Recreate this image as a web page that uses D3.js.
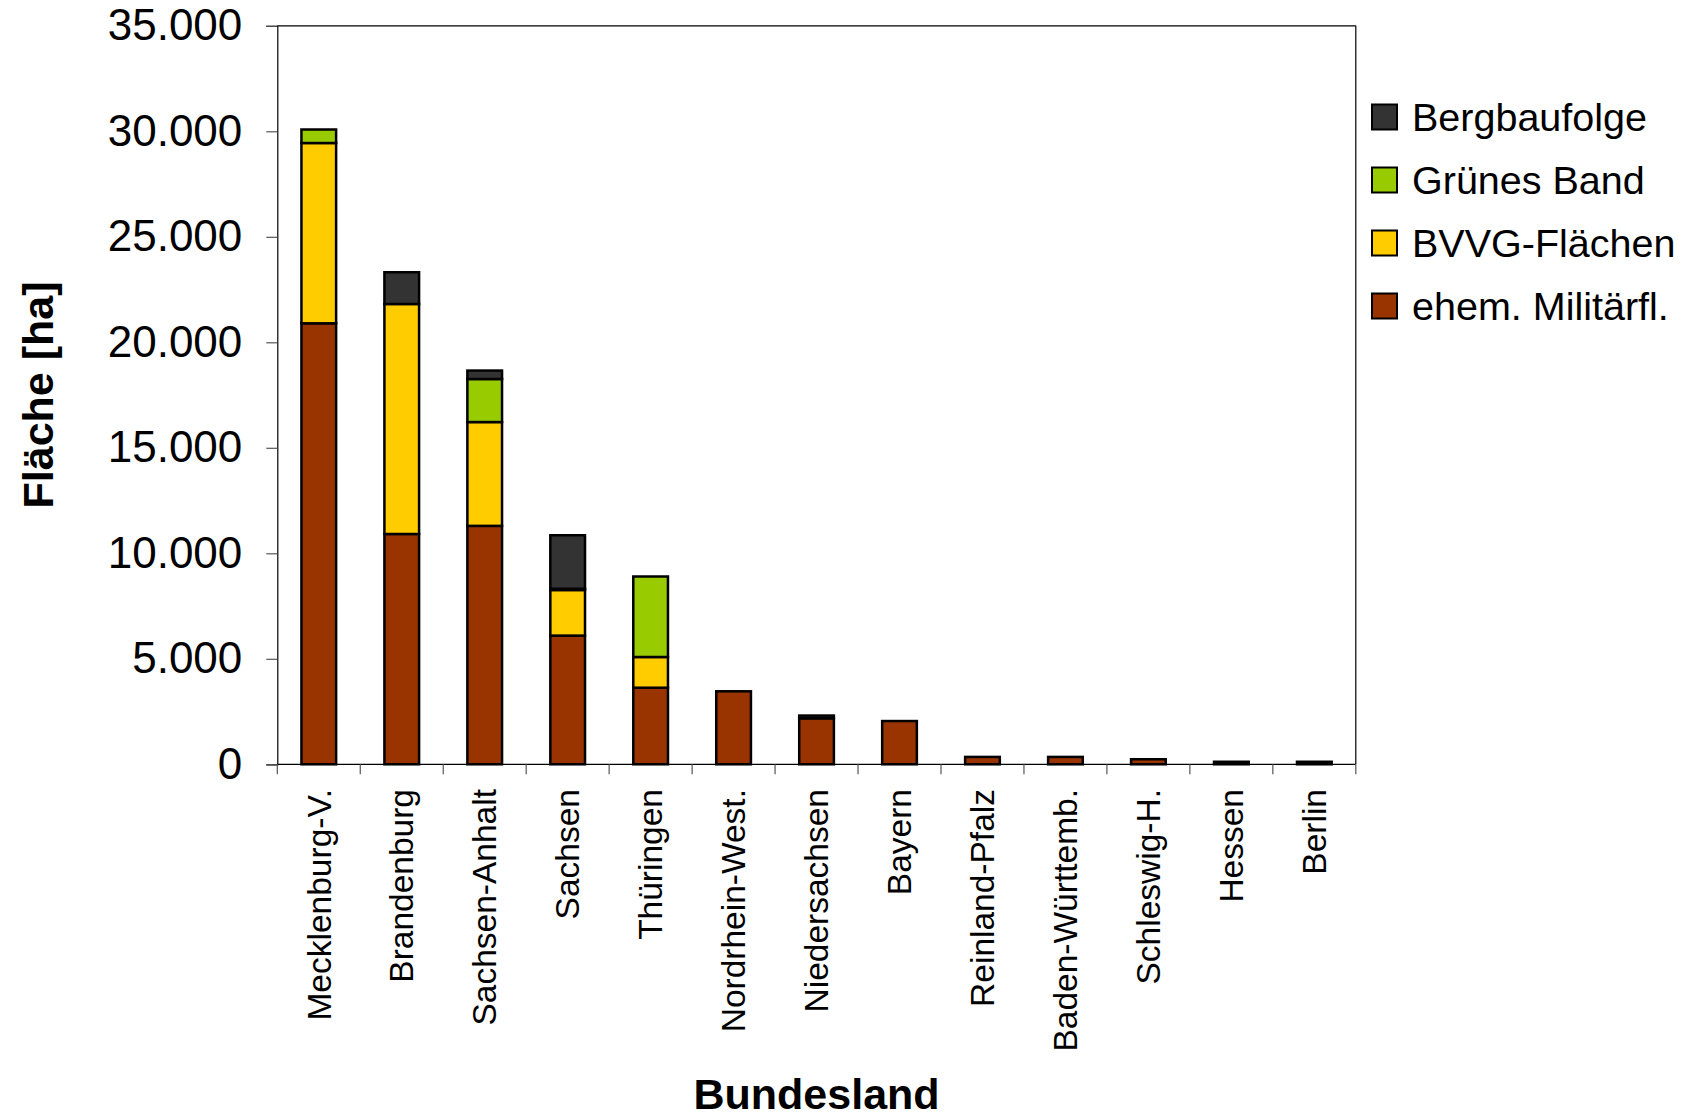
<!DOCTYPE html>
<html>
<head>
<meta charset="utf-8">
<script src="https://cdn.jsdelivr.net/npm/d3@7"></script>
<style>
  html, body { margin: 0; padding: 0; background: #fff; }
  svg { display: block; }
  text { font-family: "Liberation Sans", Arial, sans-serif; fill: #000; }
</style>
</head>
<body>
<svg id="chart" width="1683" height="1118"></svg>
<script>
const categories = ["Mecklenburg-V.", "Brandenburg", "Sachsen-Anhalt", "Sachsen", "Thüringen",
  "Nordrhein-West.", "Niedersachsen", "Bayern", "Reinland-Pfalz", "Baden-Württemb.",
  "Schleswig-H.", "Hessen", "Berlin"];
const militaer = [20900, 10915, 11300, 6100, 3630, 3460, 2180, 2050, 350, 350, 240, 120, 120];
const bvvg     = [8545, 10900, 4920, 2160, 1455, 0, 0, 0, 0, 0, 0, 0, 0];
const gruenes  = [640, 0, 2040, 60, 3815, 0, 0, 0, 0, 0, 0, 0, 0];
const bergbau  = [0, 1505, 400, 2535, 0, 0, 130, 0, 0, 0, 0, 0, 0];
const seriesNames = ["ehem. Militärfl.", "BVVG-Flächen", "Grünes Band", "Bergbaufolge"];
const seriesColors = ["#993300", "#FFCC00", "#99CC00", "#333333"];
const yTicks = [0, 5000, 10000, 15000, 20000, 25000, 30000, 35000];
const yTitle = "Fläche [ha]";
const xTitle = "Bundesland";

const seriesValues = [militaer, bvvg, gruenes, bergbau];
const keys = ["m", "b", "g", "k"];
const rows = categories.map((c, i) => {
  const r = { cat: c };
  keys.forEach((k, j) => r[k] = seriesValues[j][i]);
  return r;
});
const stacked = d3.stack().keys(keys)(rows);

const svg = d3.select("#chart");
const L = 277.3, R = 1355.8, T = 25.8, B = 764.3;

const x = d3.scaleBand().domain(categories).range([L, R]).paddingInner(0.582).paddingOuter(0.291);
const xb = d3.scaleBand().domain(categories).range([L, R]).padding(0);
const y = d3.scaleLinear().domain([0, 35000]).range([B, T]);

const de = d3.formatLocale({ decimal: ",", thousands: ".", grouping: [3], currency: ["", " €"] });
const fmt = de.format(",");

// plot frame (top and right)
svg.append("line").attr("x1", L).attr("x2", R).attr("y1", T).attr("y2", T)
  .attr("stroke", "#000").attr("stroke-width", 1.2);
svg.append("line").attr("x1", R).attr("x2", R).attr("y1", T).attr("y2", B)
  .attr("stroke", "#000").attr("stroke-width", 1.2);

// bars
const g = svg.append("g");
stacked.forEach((s, si) => {
  g.selectAll(null).data(s.filter(d => d[1] - d[0] > 0)).join("rect")
    .attr("x", d => x(d.data.cat))
    .attr("width", x.bandwidth())
    .attr("y", d => y(d[1]))
    .attr("height", d => y(d[0]) - y(d[1]))
    .attr("fill", seriesColors[si])
    .attr("stroke", "#000")
    .attr("stroke-width", 2.5);
});

// y axis
const yAxis = d3.axisLeft(y).tickValues(yTicks).tickFormat(fmt).tickSize(11).tickPadding(24);
const ya = svg.append("g").attr("transform", `translate(${L},0)`).call(yAxis);
ya.select(".domain").attr("stroke", "#000").attr("stroke-width", 1.2);
ya.selectAll(".tick line").attr("stroke", "#555").attr("stroke-width", 1.2);
ya.selectAll(".tick text").attr("font-size", 44).attr("fill", "#000")
  .attr("font-family", "Liberation Sans, Arial, sans-serif");

// x axis: ticks at band boundaries
const xAxisG = svg.append("g");
xAxisG.append("line").attr("x1", L).attr("x2", R).attr("y1", B).attr("y2", B)
  .attr("stroke", "#000").attr("stroke-width", 1.2);
const bounds = categories.map(c => xb(c)).concat([R]);
xAxisG.selectAll(null).data(bounds).join("line")
  .attr("x1", d => d).attr("x2", d => d).attr("y1", B).attr("y2", B + 10)
  .attr("stroke", "#555").attr("stroke-width", 1.2);
xAxisG.selectAll(null).data(categories).join("text")
  .attr("transform", d => `translate(${xb(d) + xb.bandwidth() / 2},789) rotate(-90)`)
  .attr("text-anchor", "end")
  .attr("dy", "0.35em")
  .attr("font-size", 33.5)
  .text(d => d);

// axis titles
svg.append("text")
  .attr("transform", `translate(53,395) rotate(-90)`)
  .attr("text-anchor", "middle")
  .attr("font-size", 43).attr("font-weight", "bold")
  .text(yTitle);
svg.append("text")
  .attr("x", (L + R) / 2).attr("y", 1109)
  .attr("text-anchor", "middle")
  .attr("font-size", 43).attr("font-weight", "bold")
  .text(xTitle);

// legend (reverse order)
const legendOrder = [3, 2, 1, 0];
const leg = svg.append("g");
legendOrder.forEach((si, i) => {
  const cy = 117 + i * 63;
  leg.append("rect").attr("x", 1372).attr("y", cy - 12.5).attr("width", 25).attr("height", 25)
    .attr("fill", seriesColors[si]).attr("stroke", "#000").attr("stroke-width", 2);
  leg.append("text").attr("x", 1412).attr("y", cy).attr("dy", "0.36em")
    .attr("font-size", 39.5).text(seriesNames[si]);
});
</script>
</body>
</html>
